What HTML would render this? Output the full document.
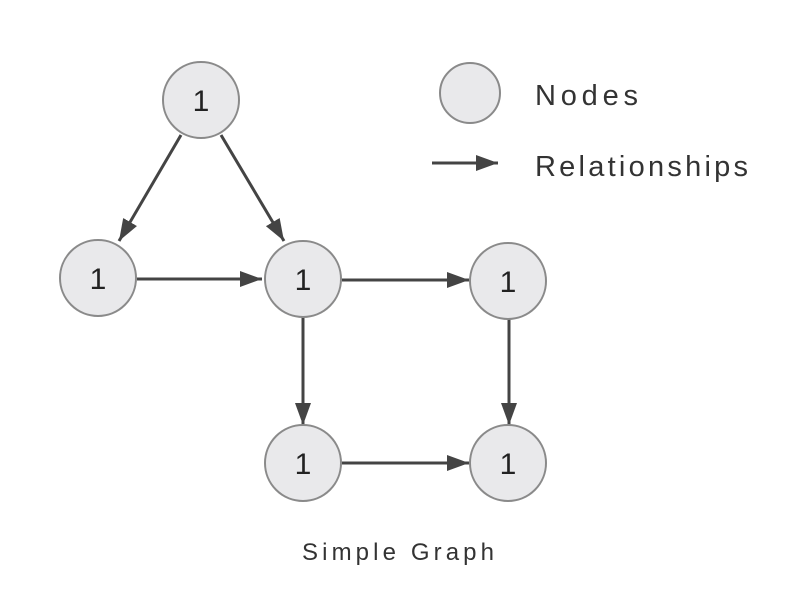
<!DOCTYPE html>
<html><head><style>body{margin:0;background:#fff}svg{display:block}</style></head>
<body>
<svg width="794" height="614" viewBox="0 0 794 614" xmlns="http://www.w3.org/2000/svg" font-family="Liberation Sans, sans-serif">
<defs><marker id="a" markerWidth="10" markerHeight="10" refX="9" refY="5" orient="auto" markerUnits="userSpaceOnUse" viewBox="0 0 10 10"><path d="M0,0 L10,5 L0,10 z" fill="#444"/></marker>
<marker id="b" markerWidth="22" markerHeight="16" refX="22" refY="8" orient="auto" markerUnits="userSpaceOnUse"><path d="M0,0 L22,8 L0,16 z" fill="#444"/></marker></defs>
<g stroke="#444" stroke-width="3" marker-end="url(#b)">
<line x1="181" y1="135" x2="119" y2="241"/>
<line x1="221" y1="135" x2="284" y2="241"/>
<line x1="137" y1="279" x2="262" y2="279"/>
<line x1="342" y1="280" x2="469" y2="280"/>
<line x1="303" y1="317" x2="303" y2="425"/>
<line x1="509" y1="318" x2="509" y2="425"/>
<line x1="342" y1="463" x2="469" y2="463"/>
<line x1="432" y1="163" x2="498" y2="163"/>
</g>
<g fill="#e9e9eb" stroke="#8a8a8a" stroke-width="2">
<circle cx="201" cy="100" r="38"/>
<circle cx="98" cy="278" r="38"/>
<circle cx="303" cy="279" r="38"/>
<circle cx="508" cy="281" r="38"/>
<circle cx="303" cy="463" r="38"/>
<circle cx="508" cy="463" r="38"/>
<circle cx="470" cy="93" r="30"/>
</g>
<g fill="#222" font-size="30" text-anchor="middle">
<text x="201" y="111">1</text>
<text x="98" y="289">1</text>
<text x="303" y="290">1</text>
<text x="508" y="292">1</text>
<text x="303" y="474">1</text>
<text x="508" y="474">1</text>
</g>
<text x="535" y="105" font-size="29" fill="#333" textLength="103">Nodes</text>
<text x="535" y="176" font-size="29" fill="#333" textLength="213">Relationships</text>
<text x="398" y="560" font-size="24" fill="#333" text-anchor="middle" textLength="192">Simple Graph</text>
</svg>
</body></html>
